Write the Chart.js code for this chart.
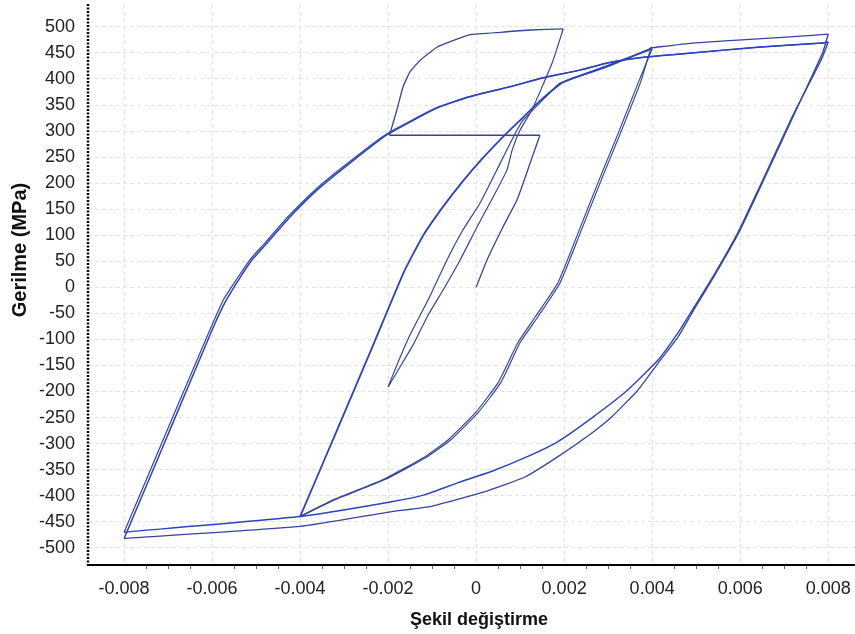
<!DOCTYPE html>
<html>
<head>
<meta charset="utf-8">
<script src="https://cdn.jsdelivr.net/npm/chart.js@4/dist/chart.umd.min.js"></script>
<style>
  html, body { margin: 0; padding: 0; background: #ffffff; }
  #wrap { width: 855px; height: 634px; position: relative; }
</style>
</head>
<body>
<div id="wrap"><canvas id="hysChart"></canvas></div>
<script>
const xTitle = 'Şekil değiştirme'
const yTitle = 'Gerilme (MPa)'
const strainTicks = [-0.008, -0.006, -0.004, -0.002, 0, 0.002, 0.004, 0.006, 0.008]
const stressTicks = [-500, -450, -400, -350, -300, -250, -200, -150, -100, -50, 0, 50, 100, 150, 200, 250, 300, 350, 400, 450, 500]

// first loading from the origin
const loadStrain = [0, 0.00025, 0.00061, 0.00093, 0.00123, 0.00145]
const loadStress = [0, 53, 116, 168, 239, 292]
const jumpStrain = [0.00145, -0.00197]
const jumpStress = [292, 292]
const riseStrain = [-0.00197, -0.0018, -0.00166, -0.0015, -0.00127, -0.00089, -0.00048, -0.00014, 0.00061, 0.00123, 0.00198]
const riseStress = [292, 341, 385, 414, 436, 461, 475, 485, 490, 494, 496]

// +-0.002 cycle
const down02Strain = [0.00198, 0.00173, 0.0015, 0.00127, 0.001, 0.00082, 0.0007, 0.00039, 0.00002, -0.00036, -0.00075, -0.00109, -0.00143, -0.00173, -0.002]
const down02Stress = [496, 431, 385, 341, 302, 264, 225, 174, 116, 53, -5, -53, -110, -153, -191]
const up02Strain = [-0.002, -0.0018, -0.0015, -0.00109, -0.00066, -0.0003, 0.00009, 0.00039, 0.0007, 0.00093, 0.00107, 0.00145, 0.00191, 0.00298, 0.00389, 0.004]
const up02Stress = [-191, -149, -91, -24, 53, 110, 162, 212, 264, 302, 321, 354, 392, 423, 456, 460]

// +-0.004 cycles
const down04aStrain = [0.004, 0.00368, 0.00323, 0.00277, 0.00232, 0.00186, 0.00134, 0.00095, 0.0005, -0.00002, -0.00064, -0.00116, -0.00211, -0.00325, -0.004]
const down04aStress = [458, 392, 296, 201, 105, 9, -57, -106, -183, -241, -293, -325, -369, -408, -440]
const down04bStrain = [0.00398, 0.00373, 0.00328, 0.00282, 0.00237, 0.00191, 0.0014, 0.001, 0.00056, 0.00004, -0.00058, -0.00111, -0.00207, -0.00322, -0.004]
const down04bStress = [462, 392, 296, 201, 105, 9, -57, -106, -183, -241, -293, -325, -369, -408, -440]
const up04Strain = [-0.004, -0.00325, -0.00241, -0.00165, -0.0012, -0.00075, -0.0003, 0.00015, 0.00061, 0.00105, 0.00145, 0.00198, 0.00298, 0.0039, 0.004]
const up04Stress = [-440, -292, -125, 28, 100, 155, 204, 248, 289, 325, 358, 394, 425, 455, 460]
const to08Strain = [0.004, 0.00491, 0.00641, 0.00786, 0.008]
const to08Stress = [460, 469, 477, 485, 486]

// +-0.008 cycles
const down08aStrain = [0.008, 0.00788, 0.0072, 0.00643, 0.00597, 0.0054, 0.00497, 0.00459, 0.00414, 0.00368, 0.00309, 0.00264, 0.00186, 0.00111, 0.0002, -0.00105, -0.00195, -0.004, -0.008]
const down08aStress = [486, 452, 327, 187, 105, 20, -40, -95, -145, -197, -248, -279, -325, -364, -392, -421, -431, -459, -482]
const down08bStrain = [0.008, 0.00786, 0.00718, 0.00641, 0.00595, 0.00538, 0.00494, 0.00459, 0.00414, 0.00339, 0.00264, 0.00186, 0.00111, 0.00036, -0.00041, -0.00116, -0.00195, -0.004, -0.008]
const down08bStress = [471, 440, 327, 187, 105, 20, -40, -87, -139, -201, -250, -296, -327, -353, -375, -398, -412, -440, -470]
const up08aStrain = [-0.008, -0.0068, -0.006, -0.0057, -0.0054, -0.0051, -0.00475, -0.00423, -0.00361, -0.00286, -0.00202, -0.00089, -0.00014, 0.00077, 0.00152, 0.00236, 0.003, 0.00384, 0.00491, 0.00641, 0.00786, 0.008]
const up08aStress = [-482, -242, -82, -28, 14, 52, 85, 135, 187, 239, 293, 344, 366, 385, 402, 417, 431, 442, 450, 461, 469, 471]
const up08bStrain = [-0.008, -0.0068, -0.006, -0.00573, -0.00544, -0.00515, -0.0048, -0.00428, -0.00366, -0.00291, -0.00206, -0.00092, -0.00016, 0.00075, 0.0015, 0.00235, 0.003, 0.00384, 0.00491, 0.00641, 0.00786, 0.008]
const up08bStress = [-470, -230, -72, -22, 16, 52, 85, 135, 187, 239, 293, 344, 366, 385, 402, 417, 431, 442, 450, 461, 469, 470]

const thinBlue = '#34459e'
const boldBlue = '#2a42c4'

const branch = (xs, ys, color, width) => ({
  data: xs.map((x, i) => ({ x: x, y: ys[i] })),
  borderColor: color,
  borderWidth: width,
  pointRadius: 0,
  tension: 0.15,
  fill: false
})

// drops the label padding Chart.js reserves, so the plot area fills the canvas
const noPad = s => {
  s.paddingTop = 0
  s.paddingBottom = 0
  s.paddingLeft = 0
  s.paddingRight = 0
}

const frame = {
  id: 'frame',
  afterDraw(chart) {
    const { ctx, chartArea: a, scales } = chart
    ctx.save()
    // minor ticks under the x axis
    ctx.strokeStyle = '#666'
    ctx.lineWidth = 1
    for (let i = 0; i < strainTicks.length - 1; i++) {
      const step = (strainTicks[i + 1] - strainTicks[i]) / 4
      for (let k = 1; k < 4; k++) {
        const px = Math.round(scales.x.getPixelForValue(strainTicks[i] + k * step)) + 0.5
        ctx.beginPath()
        ctx.moveTo(px, a.bottom + 1)
        ctx.lineTo(px, a.bottom + 4)
        ctx.stroke()
      }
    }
    // dotted left axis
    ctx.strokeStyle = '#000'
    ctx.lineWidth = 2.5
    ctx.setLineDash([2, 1.5])
    ctx.beginPath()
    ctx.moveTo(a.left, a.top - 1)
    ctx.lineTo(a.left, a.bottom)
    ctx.stroke()
    ctx.setLineDash([])
    ctx.fillStyle = '#111'
    ctx.textAlign = 'center'
    ctx.textBaseline = 'middle'
    ctx.font = 'bold 18px "Liberation Sans", Arial, sans-serif'
    ctx.fillText(xTitle, 479, 620)
    ctx.font = 'bold 20px "Liberation Sans", Arial, sans-serif'
    ctx.translate(20, 250)
    ctx.rotate(-Math.PI / 2)
    ctx.fillText(yTitle, 0, 0)
    ctx.restore()
  }
}

const tickFont = { family: '"Liberation Sans", Arial, sans-serif', size: 18 }

const initChart = () => {
  const ctx = document.getElementById('hysChart').getContext('2d')

  new Chart(ctx, {
    type: 'line',
    data: {
      datasets: [
        branch(loadStrain, loadStress, thinBlue, 1.3),
        branch(jumpStrain, jumpStress, thinBlue, 1.6),
        branch(riseStrain, riseStress, thinBlue, 1.3),
        branch(down02Strain, down02Stress, thinBlue, 1.2),
        branch(up02Strain, up02Stress, thinBlue, 1.2),
        branch(down04aStrain, down04aStress, thinBlue, 1.2),
        branch(down04bStrain, down04bStress, thinBlue, 1.2),
        branch(up04Strain, up04Stress, boldBlue, 1.8),
        branch(to08Strain, to08Stress, thinBlue, 1.3),
        branch(down08aStrain, down08aStress, thinBlue, 1.3),
        branch(down08bStrain, down08bStress, boldBlue, 1.4),
        branch(up08aStrain, up08aStress, boldBlue, 1.5),
        branch(up08bStrain, up08bStress, thinBlue, 1.2)
      ]
    },
    options: {
      responsive: true,
      maintainAspectRatio: false,
      animation: false,
      layout: { padding: { top: 5, right: 0, left: 0, bottom: 0 } },
      plugins: {
        legend: { display: false },
        tooltip: { enabled: false }
      },
      scales: {
        x: {
          type: 'linear',
          min: -0.00882,
          max: 0.00861,
          afterFit: s => { s.height = 69; noPad(s) },
          afterBuildTicks: s => { s.ticks = strainTicks.map(v => ({ value: v })) },
          grid: { color: '#e2e2e2', lineWidth: 1, drawTicks: false },
          border: { color: '#000', width: 2, dash: [4, 3] },
          ticks: {
            color: '#222',
            font: tickFont,
            padding: 13,
            maxRotation: 0,
            callback: v => (v === 0 ? '0' : v.toFixed(3))
          }
        },
        y: {
          type: 'linear',
          min: -533,
          max: 542,
          afterFit: s => { s.width = 88; noPad(s) },
          afterBuildTicks: s => { s.ticks = stressTicks.map(v => ({ value: v })) },
          grid: { color: '#e2e2e2', lineWidth: 1, drawTicks: false },
          border: { display: false, dash: [4, 3] },
          ticks: {
            color: '#222',
            font: tickFont,
            padding: 13
          }
        }
      }
    },
    plugins: [frame]
  })
}

initChart()
</script>
</body>
</html>
